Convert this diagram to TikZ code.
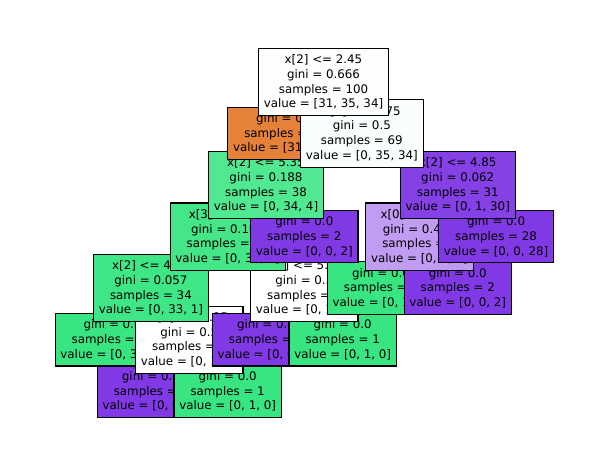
\documentclass[tikz,border=0pt]{standalone}
\usepackage{fontspec}
\setmainfont{DejaVu Sans}
\usepackage{tikz}
\definecolor{orangeleaf}{RGB}{229,129,57}
\definecolor{greenleaf}{RGB}{57,229,129}
\definecolor{purpleleaf}{RGB}{129,57,229}
\definecolor{rootfill}{RGB}{252,255,253}
\definecolor{splitfill}{RGB}{249,254,251}
\definecolor{greenA}{RGB}{80,232,144}
\definecolor{greenB}{RGB}{69,230,136}
\definecolor{greenC}{RGB}{63,230,133}
\definecolor{purpleA}{RGB}{133,64,230}
\definecolor{purpleB}{RGB}{192,156,242}
\tikzset{
  treebox/.style={draw=black, line width=1.1pt, align=center, inner xsep=5.3pt, inner ysep=6.3pt,
    font=\fontsize{11.85}{14.7}\selectfont},
}

\begin{document}
\begin{tikzpicture}[x=1pt,y=-1pt]
\path[fill=white,use as bounding box] (0,0) rectangle (593,468);
\node[treebox,fill=purpleleaf] (trlllrl) at (150.93,391.3) {gini = 0.0\\samples = 1\\value = [0, 0, 1]};
\node[treebox,fill=greenleaf] (trlllrr) at (227.63,391.3) {gini = 0.0\\samples = 1\\value = [0, 1, 0]};
\node[treebox,fill=greenleaf] (trllll) at (112.58,339.75) {gini = 0.0\\samples = 32\\value = [0, 32, 0]};
\node[treebox,fill=white] (trlllr) at (189.28,339.75) {x[0] <= 6.95\\gini = 0.5\\samples = 2\\value = [0, 1, 1]};
\node[treebox,fill=purpleleaf] (trllrl) at (265.98,339.75) {gini = 0.0\\samples = 1\\value = [0, 0, 1]};
\node[treebox,fill=greenleaf] (trllrr) at (342.68,339.75) {gini = 0.0\\samples = 1\\value = [0, 1, 0]};
\node[treebox,fill=greenC] (trlll) at (150.93,288.2) {x[2] <= 4.95\\gini = 0.057\\samples = 34\\value = [0, 33, 1]};
\node[treebox,fill=white] (trllr) at (304.33,288.2) {x[0] <= 5.95\\gini = 0.5\\samples = 2\\value = [0, 1, 1]};
\node[treebox,fill=greenleaf] (trrll) at (381.03,288.2) {gini = 0.0\\samples = 1\\value = [0, 1, 0]};
\node[treebox,fill=purpleleaf] (trrlr) at (457.73,288.2) {gini = 0.0\\samples = 2\\value = [0, 0, 2]};
\node[treebox,fill=greenB] (trll) at (227.63,236.65) {x[3] <= 1.65\\gini = 0.105\\samples = 36\\value = [0, 34, 2]};
\node[treebox,fill=purpleleaf] (trlr) at (304.33,236.65) {gini = 0.0\\samples = 2\\value = [0, 0, 2]};
\node[treebox,fill=purpleB] (trrl) at (419.38,236.65) {x[0] <= 6.05\\gini = 0.444\\samples = 3\\value = [0, 1, 2]};
\node[treebox,fill=purpleleaf] (trrr) at (496.08,236.65) {gini = 0.0\\samples = 28\\value = [0, 0, 28]};
\node[treebox,fill=greenA] (trl) at (265.98,185.1) {x[2] <= 5.35\\gini = 0.188\\samples = 38\\value = [0, 34, 4]};
\node[treebox,fill=purpleA] (trr) at (457.73,185.1) {x[2] <= 4.85\\gini = 0.062\\samples = 31\\value = [0, 1, 30]};
\node[treebox,fill=orangeleaf] (tl) at (285.15,133.55) {gini = 0.0\\samples = 31\\value = [31, 0, 0]};
\node[treebox,fill=splitfill] (tr) at (361.85,133.55) {x[3] <= 1.75\\gini = 0.5\\samples = 69\\value = [0, 35, 34]};
\node[treebox,fill=rootfill] (t) at (323.5,82) {x[2] <= 2.45\\gini = 0.666\\samples = 100\\value = [31, 35, 34]};
\end{tikzpicture}
\end{document}
